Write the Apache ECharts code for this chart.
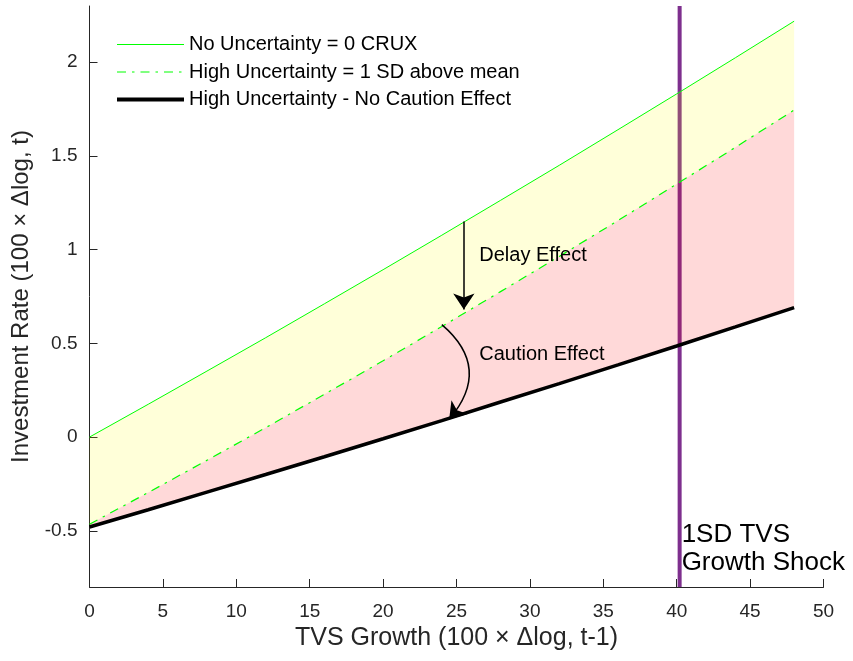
<!DOCTYPE html>
<html>
<head>
<meta charset="utf-8">
<script src="https://cdn.jsdelivr.net/npm/echarts@6/dist/echarts.min.js"></script>
<style>html,body{margin:0;padding:0;background:#fff}#c{width:853px;height:661px}</style>
</head>
<body>
<div id="c"></div>
<script>
// TVS growth grid (x)
const tvsGrowth = [0, 4, 8, 12, 16, 20, 24, 28, 32, 36, 40, 44, 48];
// No Uncertainty = 0 CRUX
const noUncertainty = [0.000, 0.175, 0.352, 0.530, 0.711, 0.893, 1.077, 1.263, 1.450, 1.640, 1.831, 2.024, 2.219];
// High Uncertainty = 1 SD above mean
const highUncertainty = [-0.465, -0.296, -0.124, 0.050, 0.228, 0.407, 0.590, 0.776, 0.964, 1.155, 1.350, 1.546, 1.745];
// High Uncertainty - No Caution Effect
const noCaution = [-0.480, -0.388, -0.294, -0.200, -0.105, -0.009, 0.088, 0.187, 0.285, 0.385, 0.486, 0.588, 0.691];
const shockX = 40.2;
const yTicks = [-0.5, 0, 0.5, 1, 1.5, 2];
const seriesNames = ['No Uncertainty = 0 CRUX', 'High Uncertainty = 1 SD above mean', 'High Uncertainty - No Caution Effect'];
// annotation arrows: [from, to] in data units
const delayArrow = [[25.5, 1.15], [25.5, 0.68]];
const cautionArrow = [[24.0, 0.60], [24.5, 0.095]];

const FONT = 'Liberation Sans, Arial, Helvetica, sans-serif';
const AX = '#262626';

function pairs(xs, ys) { return xs.map((x, i) => [x, ys[i]]); }

function band(upper, lower, color) {
  return {
    type: 'custom', z: 2, silent: true,
    data: [[0, 0]],
    renderItem: function (params, api) {
      const pts = [];
      for (let i = 0; i < tvsGrowth.length; i++) pts.push(api.coord([tvsGrowth[i], upper[i]]));
      for (let i = tvsGrowth.length - 1; i >= 0; i--) pts.push(api.coord([tvsGrowth[i], lower[i]]));
      return { type: 'polygon', shape: { points: pts }, style: { fill: color, stroke: null } };
    }
  };
}

const chart = echarts.init(document.getElementById('c'), null, { renderer: 'canvas' });
chart.setOption({
  animation: false,
  backgroundColor: '#fff',
  textStyle: { fontFamily: FONT },
  grid: { left: 89.5, right: 29.5, top: 6, bottom: 74, containLabel: false },
  legend: {
    orient: 'vertical', left: 115, top: 34.5, padding: 0,
    itemWidth: 67, itemHeight: 14, itemGap: 7.5,
    itemStyle: { opacity: 0 },
    data: [
      { name: seriesNames[0], lineStyle: { width: 1 }, itemStyle: { opacity: 0 } },
      { name: seriesNames[1], lineStyle: { width: 1 }, itemStyle: { opacity: 0 } },
      { name: seriesNames[2], lineStyle: { width: 4 }, itemStyle: { opacity: 0 } }
    ],
    textStyle: { fontFamily: FONT, fontSize: 20, color: '#000' }
  },
  xAxis: {
    type: 'value', min: 0, max: 50, interval: 5,
    name: 'TVS Growth (100 \u00d7 \u0394log, t-1)', nameLocation: 'middle', nameGap: 39,
    nameTextStyle: { fontFamily: FONT, fontSize: 25, color: AX },
    axisLine: { show: true, onZero: false, lineStyle: { color: AX, width: 1 } },
    axisTick: { show: true, inside: true, length: 8, lineStyle: { color: AX } },
    axisLabel: { fontFamily: FONT, fontSize: 19, color: AX, margin: 15 },
    splitLine: { show: false }
  },
  yAxis: {
    type: 'value', min: -0.8, max: 2.3, interval: 0.1,
    name: 'Investment Rate (100 \u00d7 \u0394log, t)', nameLocation: 'middle', nameGap: 56,
    nameTextStyle: { fontFamily: FONT, fontSize: 24, color: AX },
    axisLine: { show: true, onZero: false, lineStyle: { color: AX, width: 1 } },
    axisTick: { show: true, inside: true, length: 8, lineStyle: { color: AX }, customValues: yTicks },
    axisLabel: { fontFamily: FONT, fontSize: 19, color: AX, margin: 12, customValues: yTicks,
      formatter: v => String(Math.round(v * 10) / 10) },
    splitLine: { show: false }
  },
  series: [
    {
      name: 'shock', type: 'line', z: 1, silent: true, symbol: 'none',
      data: [[shockX, -0.8], [shockX, 2.3]],
      lineStyle: { color: '#7E2F8E', width: 4 },
      markPoint: {
        symbol: 'circle', symbolSize: 0, silent: true,
        data: [{ coord: [shockX, -0.595],
          label: { show: true, position: 'right', distance: 2,
            formatter: '1SD TVS\nGrowth Shock', fontFamily: FONT, fontSize: 26, lineHeight: 28, color: '#000', align: 'left' } }]
      }
    },
    band(noUncertainty, highUncertainty, 'rgba(255,255,0,0.15)'),
    band(highUncertainty, noCaution, 'rgba(255,0,0,0.15)'),
    {
      name: seriesNames[0], type: 'line', z: 3, symbol: 'none', silent: true,
      data: pairs(tvsGrowth, noUncertainty),
      itemStyle: { color: '#00FF00' },
      lineStyle: { color: '#00FF00', width: 1 }
    },
    {
      name: seriesNames[1], type: 'line', z: 3, symbol: 'none', silent: true,
      data: pairs(tvsGrowth, highUncertainty),
      itemStyle: { color: '#00FF00' },
      lineStyle: { color: '#00FF00', width: 1.2, type: [9, 6, 2.5, 6] }
    },
    {
      name: seriesNames[2], type: 'line', z: 3, symbol: 'none', silent: true,
      data: pairs(tvsGrowth, noCaution),
      itemStyle: { color: '#000' },
      lineStyle: { color: '#000', width: 3.5 },
      markPoint: {
        symbol: 'circle', symbolSize: 0, silent: true,
        label: { show: true, position: 'right', distance: 0, fontFamily: FONT, fontSize: 20, color: '#000' },
        data: [
          { coord: [26.55, 0.968], label: { formatter: 'Delay Effect' } },
          { coord: [26.55, 0.443], label: { formatter: 'Caution Effect' } }
        ]
      }
    },
    {
      name: 'arrows', type: 'lines', coordinateSystem: 'cartesian2d', z: 4, silent: true,
      symbol: ['none', 'arrow'], symbolSize: [9, 16],
      lineStyle: { color: '#000', width: 1.5, opacity: 1 },
      data: [
        { coords: delayArrow, lineStyle: { curveness: 0 } },
        { coords: cautionArrow, lineStyle: { curveness: 0.5 } }
      ]
    }
  ]
});
</script>
</body>
</html>
